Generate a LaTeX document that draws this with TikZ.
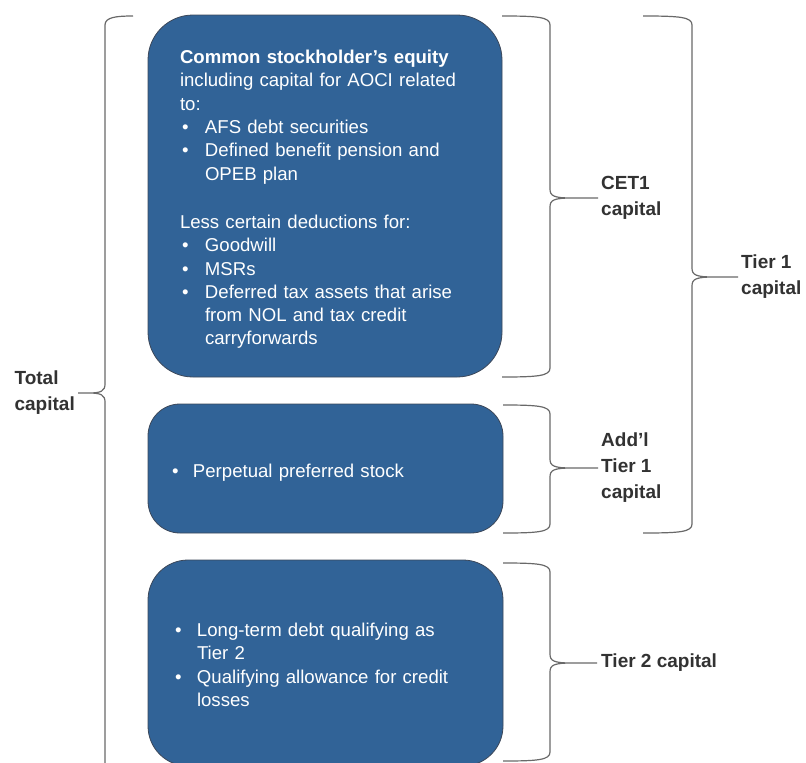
\documentclass[tikz,border=0pt]{standalone}
\usepackage{fontspec}
\setmainfont{Liberation Sans}
\definecolor{boxblue}{RGB}{49,99,151}
\definecolor{boxedge}{RGB}{60,72,90}
\definecolor{bracegray}{RGB}{105,105,105}
\definecolor{labelgray}{RGB}{50,50,50}
% bullet paragraph with hanging indent
\newcommand\bul[2][25pt]{\par\hangindent=#1\hangafter=1\noindent\makebox[#1][l]{\hspace{2pt}•}#2\par}
% right-facing brace: xstart, xvertical, ytop, ytip, ybottom, label node
\newcommand\capbraceR[6]{%
  \draw[bracestyle] (#1,#3) .. controls ({#2-12},#3) and (#2,{#3+1}) .. (#2,{#3+9})
    -- (#2,{#4-9}) .. controls (#2,{#4-2}) and ({#2+4},#4) .. ({#2+22},#4) -- (#6.west)
    -- ({#2+22},#4) .. controls ({#2+4},#4) and (#2,{#4+2}) .. (#2,{#4+9})
    -- (#2,{#5-9}) .. controls (#2,{#5-1}) and ({#2-12},#5) .. (#1,#5);}
% left-facing brace
\newcommand\capbraceL[6]{%
  \draw[bracestyle] (#1,#3) .. controls ({#2+12},#3) and (#2,{#3+1}) .. (#2,{#3+9})
    -- (#2,{#4-9}) .. controls (#2,{#4-2}) and ({#2-4},#4) .. ({#2-16},#4) -- (#6.east)
    -- ({#2-16},#4) .. controls ({#2-4},#4) and (#2,{#4+2}) .. (#2,{#4+9})
    -- (#2,{#5-9}) .. controls (#2,{#5-1}) and ({#2+12},#5) .. (#1,#5);}
\begin{document}
\begin{tikzpicture}[x=1pt,y=-1pt,
  box/.style={draw=boxedge, line width=0.8pt, fill=boxblue, inner sep=0pt},
  boxtext/.style={text=white, align=left, inner sep=0pt, font=\fontsize{18.6}{23.3}\selectfont},
  lbl/.style={font=\fontsize{19}{26}\selectfont\bfseries, text=labelgray, align=left, inner sep=3pt},
  bracestyle/.style={draw=bracegray, line width=1.2pt}]
\useasboundingbox (0,0) rectangle (806,763);
\clip (0,0) rectangle (806,763);
\fill[white] (0,0) rectangle (806,763);

% boxes
\node[box, rounded corners=45pt, minimum width=354pt, minimum height=362pt] (b1) at (325,196) {};
\node[box, rounded corners=32pt, minimum width=355pt, minimum height=129pt] (b2) at (325.5,468.5) {};
\node[box, rounded corners=40pt, minimum width=355pt, minimum height=206pt] (b3) at (325.5,663) {};

% box texts
\node[boxtext, text width=290pt, yshift=-3.5pt] (t1) at (b1.center) {%
\noindent{\bfseries Common stockholder’s equity}\newline
including capital for AOCI related\newline
to:
\bul{AFS debt securities}
\bul{Defined benefit pension and\newline OPEB plan}
\vskip 25pt
\noindent Less certain deductions for:
\bul{Goodwill}
\bul{MSRs}
\bul{Deferred tax assets that arise\newline from NOL and tax credit\newline carryforwards}};

\node[boxtext, text width=311pt, yshift=1pt] (t2) at (b2.center) {%
\bul[23pt]{Perpetual preferred stock}};

\node[boxtext, text width=305pt, yshift=3pt] (t3) at (b3.center) {%
\bul[24pt]{Long-term debt qualifying as\newline Tier 2}
\bul[24pt]{Qualifying allowance for credit\newline losses}};

% labels
\node[lbl, anchor=west] (lcet) at (598,198) {CET1\\capital};
\node[lbl, anchor=west] (ladd) at (598,468) {Add’l\\Tier 1\\capital};
\node[lbl, anchor=west] (lt1) at (738,277) {Tier 1\\capital};
\node[lbl, anchor=west, inner xsep=4pt] (lt2) at (597,663) {Tier 2 capital};
\node[lbl, anchor=east] (ltot) at (78,393) {Total\\capital};

% braces
\capbraceR{502}{550}{16}{198}{377}{lcet}
\capbraceR{503}{550}{405}{468}{533}{ladd}
\capbraceR{643}{692}{16}{277}{533}{lt1}
\capbraceR{503}{550}{563}{663}{761}{lt2}
\capbraceL{133}{105}{16}{393}{790}{ltot}
\end{tikzpicture}
\end{document}
